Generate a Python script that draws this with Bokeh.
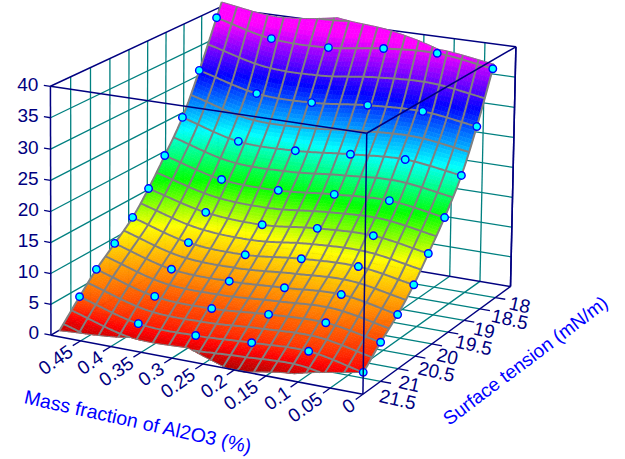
import numpy as np
from bokeh.plotting import figure
from bokeh.models import Range1d
from bokeh.embed import file_html
from bokeh.resources import INLINE
from bokeh.core.properties import value

# ---------- data ----------
surface_tension = [18, 18.5, 19, 19.5, 20, 20.5, 21, 21.5, 22]
mass_fraction = [
    [.474, .379, .282, .190, .102, .012],
    [.473, .374, .281, .188, .098, .011],
    [.471, .375, .279, .188, .099, .009],
    [.470, .373, .278, .186, .097, .009],
    [.466, .369, .275, .185, .095, .008],
    [.461, .367, .273, .182, .091, .004],
    [.459, .364, .269, .180, .090, .002],
    [.457, .360, .267, .176, .086, .001],
    [.452, .355, .262, .173, .084, .000],
]
response = [
    [40.0, 37.7, 37.5, 38.6, 39.0, 37.7],
    [32.5, 30.0, 29.8, 30.7, 31.0, 29.8],
    [26.1, 23.5, 23.4, 24.2, 24.7, 23.5],
    [21.3, 18.8, 18.5, 19.3, 19.7, 18.4],
    [17.5, 15.1, 14.6, 15.5, 15.8, 14.4],
    [14.5, 11.9, 11.5, 12.4, 12.7, 11.3],
    [12.0, 9.4, 9.1, 9.6, 10.1, 8.5],
    [9.6, 6.9, 6.6, 7.3, 7.6, 6.1],
    [7.1, 4.5, 4.3, 4.8, 5.1, 3.4],
]
# how far the fitted surface runs past the back and front rows of points, per column
surface_back_extent = [-0.3, -0.4, -0.55, -0.33, -0.07, -0.08]
surface_front_extent = [9.25, 8.5, 8.45, 9.05, 8.8, 8.0]

x_ticks = [0.45, 0.4, 0.35, 0.3, 0.25, 0.2, 0.15, 0.1, 0.05, 0]
x_tick_labels = ["0.45", "0.4", "0.35", "0.3", "0.25", "0.2", "0.15", "0.1", "0.05", "0"]
y_ticks = [18, 18.5, 19, 19.5, 20, 20.5, 21, 21.5]
y_tick_labels = ["18", "18.5", "19", "19.5", "20", "20.5", "21", "21.5"]
z_ticks = [0, 5, 10, 15, 20, 25, 30, 35, 40]
z_tick_labels = ["0", "5", "10", "15", "20", "25", "30", "35", "40"]
x_title = "Mass fraction of Al2O3 (%)"
y_title = "Surface tension (mN/m)"
color_z = [0, 3.5, 8.5, 13.5, 18.5, 24.5, 32, 39.5, 40]
color_rgb = [(175, 0, 0), (255, 0, 0), (255, 128, 0), (255, 255, 0), (0, 255, 0),
             (0, 255, 255), (0, 0, 255), (255, 0, 255), (255, 0, 255)]

XR, YR, ZR = (0.0, 0.5), (22.0, 17.5), (0.0, 40.0)
NAVY, TEAL, GRAY = "#000080", "#008080", "#808080"

# ---------- camera: perspective fitted to the box outline ----------
cal = {(0,0,0):(362,395),(1,0,0):(52,334),(0,1,0):(511,284),(1,1,0):(215,238),
       (0,0,1):(366,133),(1,0,1):(49,85),(0,1,1):(515,47),(1,1,1):(220,7)}
A, b = [], []
for (u, v, w), (X, Y) in cal.items():
    A.append([u,v,w,1,0,0,0,0,-X*u,-X*v,-X*w]); b.append(X)
    A.append([0,0,0,0,u,v,w,1,-Y*u,-Y*v,-Y*w]); b.append(Y)
M = np.append(np.linalg.lstsq(np.array(A,float), np.array(b,float), rcond=None)[0], 1).reshape(3,4)

def proj(x, y, z):
    x, y, z = np.asarray(x,float), np.asarray(y,float), np.asarray(z,float)
    u = (x-XR[0])/(XR[1]-XR[0]); v = (y-YR[0])/(YR[1]-YR[0]); w = (z-ZR[0])/(ZR[1]-ZR[0])
    d = M[2,0]*u+M[2,1]*v+M[2,2]*w+M[2,3]
    return (M[0,0]*u+M[0,1]*v+M[0,2]*w+M[0,3])/d, (M[1,0]*u+M[1,1]*v+M[1,2]*w+M[1,3])/d

# ---------- surface rendering between the points ----------
xg = np.array(mass_fraction); zg = np.array(response)
yg = np.repeat(np.array(surface_tension,float)[:,None], 6, axis=1)
PAD = 3
def pad(P, front_step):
    P = np.hstack([P[:,:1]+k*(P[:,:1]-P[:,1:2]) for k in range(PAD,0,-1)]+[P]+
                  [P[:,-1:]+k*(P[:,-1:]-P[:,-2:-1]) for k in range(1,PAD+1)])
    back = [P[0]+k*(P[0]-P[1]) for k in range(PAD,0,-1)]
    front = [P[-1]+k*front_step for k in range(1,PAD+1)]
    return np.vstack(back+[P]+front)
Px, Py, Pz = pad(xg,.027), pad(yg,0.0), pad(zg,-4.9)

def cr_w(f):
    return [(-f**3+2*f**2-f)/2,(3*f**3-5*f**2+2)/2,(-3*f**3+4*f**2+f)/2,(f**3-f**2)/2]
def surf(P, s, t):
    s, t = np.asarray(s,float), np.asarray(t,float)
    i = np.clip(np.floor(s),-1,5).astype(int); j = np.clip(np.floor(t),-1,10).astype(int)
    ws, wt = cr_w(s-i), cr_w(t-j)
    out = 0
    for a in range(4):
        for c in range(4):
            out = out + wt[a]*ws[c]*P[np.clip(j+PAD-1+a,0,P.shape[0]-1), np.clip(i+PAD-1+c,0,P.shape[1]-1)]
    return out
def pos(s, t):
    return surf(Px,s,t), surf(Py,s,t), np.clip(surf(Pz,s,t),0,43)
S_COL = np.arange(6.)
t_lo = lambda s: np.interp(s, S_COL, surface_back_extent)
t_hi = lambda s: np.interp(s, S_COL, surface_front_extent)

def color(z):
    r = [np.interp(z, color_z, [c[k] for c in color_rgb]) for k in range(3)]
    return "#%02x%02x%02x" % tuple(int(round(v)) for v in r)

p = figure(width=625, height=459, x_range=Range1d(0,625), y_range=Range1d(459,0),
           tools="", toolbar_location=None, output_backend="svg", min_border=0,
           background_fill_color="white", border_fill_color="white", outline_line_color=None)
p.axis.visible = False; p.grid.visible = False

def lines(segs, col, w):
    xs, ys = [], []
    for a, c in segs:
        X, Y = proj([a[0],c[0]],[a[1],c[1]],[a[2],c[2]])
        xs.append(list(X)); ys.append(list(Y))
    p.multi_line(xs, ys, line_color=col, line_width=w)

x0, x1 = XR; y0, y1 = YR; z0, z1 = ZR
grid = []
for z in z_ticks[1:-1]:
    grid += [((x1,y0,z),(x1,y1,z)), ((x1,y1,z),(x0,y1,z))]
for x in x_ticks[:-1]:
    grid += [((x,y1,z0),(x,y1,z1)), ((x,y0,z0),(x,y1,z0))]
for y in y_ticks:
    grid += [((x1,y,z0),(x1,y,z1)), ((x0,y,z0),(x1,y,z0))]
lines(grid, TEAL, 1.3)
back = [((x1,y0,z0),(x1,y1,z0)),((x1,y1,z0),(x0,y1,z0)),((x1,y1,z0),(x1,y1,z1)),
        ((x1,y0,z1),(x1,y1,z1)),((x1,y1,z1),(x0,y1,z1)),((x0,y1,z0),(x0,y1,z1)),
        ((x1,y0,z0),(x1,y0,z1))]
lines(back, NAVY, 1.5)

# filled surface
ss = np.linspace(0,5,81)
tt = np.linspace(-0.6,9.25,118)
qx, qy, qc = [], [], []
S, T = np.meshgrid(ss, tt)
T2 = np.clip(T, t_lo(S), t_hi(S))
GX, GY, GZ = pos(S, T2)
PX, PY = proj(GX, GY, GZ)
for j in range(len(tt)-1):
    for i in range(len(ss)-1):
        if T2[j,i]==T2[j+1,i] and T2[j,i+1]==T2[j+1,i+1]:
            continue
        qx.append([PX[j,i],PX[j,i+1],PX[j+1,i+1],PX[j+1,i]])
        qy.append([PY[j,i],PY[j,i+1],PY[j+1,i+1],PY[j+1,i]])
        qc.append(color((GZ[j,i]+GZ[j,i+1]+GZ[j+1,i]+GZ[j+1,i+1])/4))
p.patches(qx, qy, fill_color=qc, line_color=qc, line_width=0.6)

# mesh
mx, my = [], []
fine = np.linspace(0,5,161)
for k in range(-1, 19):
    tv = k/2
    keep = (tv>=t_lo(fine))&(tv<=t_hi(fine))
    run = []
    for idx in list(np.where(keep)[0])+[None]:
        if idx is not None and (not run or idx==run[-1]+1):
            run.append(idx)
            continue
        if len(run)>=2:
            X,Y = proj(*pos(fine[run], np.full(len(run),tv)))
            mx.append(list(X)); my.append(list(Y))
        run = [idx] if idx is not None else []
for k in range(0, 19):
    sv = k*5/18
    tv = np.linspace(t_lo(sv), t_hi(sv), 60)
    X,Y = proj(*pos(np.full(60,sv), tv))
    mx.append(list(X)); my.append(list(Y))
p.multi_line(mx, my, line_color=GRAY, line_width=2.0)
for f in (t_lo, t_hi):
    X,Y = proj(*pos(fine, f(fine)))
    p.line(X, Y, line_color=GRAY, line_width=1.0)

# data points
DX, DY = proj(xg.ravel(), yg.ravel(), zg.ravel())
p.scatter(DX, DY, size=7.5, fill_color="#00ffff", line_color="#0000ff", line_width=1.4)

# front edges and ticks
front = [((x0,y0,z0),(x1,y0,z0)),((x0,y0,z0),(x0,y1,z0)),((x0,y0,z0),(x0,y0,z1)),
         ((x0,y0,z1),(x1,y0,z1)),((x0,y0,z1),(x0,y1,z1)),((x0,y1,z0),(x0,y1,z1))]
ticks = [((x,y0,z0),(x,y0+.2,z0)) for x in x_ticks]
ticks += [((x0,y,z0),(x0-.016,y,z0)) for y in y_ticks]
ticks += [((x1,y0,z),(x1+.011,y0,z)) for z in z_ticks]
lines(front, NAVY, 1.5)
lines(ticks, NAVY, 1.3)

FONT = value("Liberation Sans")
X,Y = proj([x1+.02]*9, [y0]*9, z_ticks)
p.text(X, Y, text=z_tick_labels, text_font=FONT, text_font_size="19px", text_color=NAVY,
       text_align="right", text_baseline="middle")
X,Y = proj(x_ticks, [y0]*10, [z0]*10)
p.text(np.array(X)-10, np.array(Y)+8.5, text=x_tick_labels, text_font=FONT, text_font_size="19px",
       text_color=NAVY, text_align="right", text_baseline="middle", angle=np.radians(35))
X,Y = proj([x0]*8, y_ticks, [z0]*8)
f = np.linspace(1,0,8)
p.text(np.array(X)-1+15*f, np.array(Y)+14-9*f, text=y_tick_labels, text_font=FONT, text_font_size="19px",
       text_color=NAVY, text_align="left", text_baseline="middle", angle=np.radians(-13))
p.text([138],[421], text=[x_title], text_font=FONT, text_font_size="19.5px", text_color="#0000ff",
       text_align="center", text_baseline="middle", angle=np.radians(-12.5))
p.text([525],[360], text=[y_title], text_font=FONT, text_font_size="19px", text_color="#0000ff",
       text_align="center", text_baseline="middle", angle=np.radians(37))

open("out.html","w").write(file_html(p, INLINE))
